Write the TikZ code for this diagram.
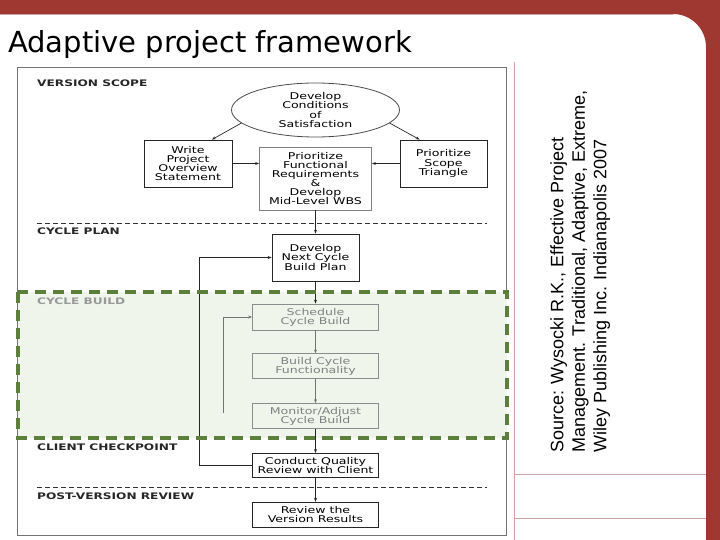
\documentclass[tikz,border=0pt]{standalone}
\usepackage{fontspec}
\setmainfont{DejaVu Sans}
\newfontfamily\figfont[FakeStretch=1.35]{DejaVu Sans}
\newfontfamily\srcfont{Liberation Sans}
\usetikzlibrary{arrows.meta,positioning,shapes.geometric}
\definecolor{slidered}{RGB}{158,56,48}
\definecolor{rulepink}{RGB}{204,164,164}
\definecolor{buildgreen}{RGB}{92,128,60}
\definecolor{buildfill}{RGB}{239,245,235}

\begin{document}
\begin{tikzpicture}[x=1pt, y=-1pt, >={Stealth[length=4pt, width=3pt]},
  box/.style={draw=black!85, line width=0.8pt, align=center, inner sep=1pt,
    text=black, font=\figfont\fontsize{9.3}{9.1}\selectfont},
  faded/.style={box, draw=black!45, text=black!50},
  section/.style={anchor=west, inner sep=0pt, text=black!85,
    font=\figfont\bfseries\fontsize{9}{9}\selectfont},
  flow/.style={->, line width=0.7pt, black!85},
  sepline/.style={black!80, line width=0.6pt, dash pattern=on 5pt off 3pt}
]
  \useasboundingbox (0,0) rectangle (720,540);
  \fill[slidered] (0,0) -- (720,0) -- (720,540) -- (706,540) -- (706,47)
    arc[start angle=0, end angle=90, radius=33pt] -- (0,14) -- cycle;
  \draw[rulepink, line width=0.6pt] (0,14.5) -- (673,14.5);
  \draw[rulepink, line width=0.8pt] (514,62) -- (514,540);
  \draw[rulepink, line width=0.8pt] (514,474) -- (706,474);
  \draw[rulepink, line width=0.8pt] (514,518) -- (706,518);

  \node[anchor=base west, inner sep=0pt, font=\fontsize{29}{34}\selectfont] (title)
    at (8,53) {Adaptive project framework};
  \node[rotate=90, anchor=north west, align=left, inner sep=0pt,
    font=\srcfont\fontsize{18}{21.5}\selectfont] (source) at (550,453)
    {Source: Wysocki R.K., Effective Project\\Management. Traditional, Adaptive, Extreme,\\Wiley Publishing Inc. Indianapolis 2007};

  \draw[black!55, line width=1pt] (17,68) rectangle (506,535);
  \fill[buildfill] (18,292) rectangle (507,438);
  \draw[sepline] (37,223) -- (487,223);
  \draw[sepline] (37,487) -- (487,487);

  \node[section] (vscope) at (37,83) {VERSION SCOPE};
  \node[section] (cplan) at (37,231) {CYCLE PLAN};
  \node[section, text=black!40] (cbuild) at (37,301) {CYCLE BUILD};
  \node[section] (ccheck) at (37,447) {CLIENT CHECKPOINT};
  \node[section] (pvreview) at (37,496) {POST-VERSION REVIEW};

  \node[box, ellipse, draw=black!70, minimum width=168pt, minimum height=54pt] (cos)
    at (315.5,110) {Develop\\Conditions\\of\\Satisfaction};
  \node[box, minimum width=88pt, minimum height=47pt] (write) at (188,163.5)
    {Write\\Project\\Overview\\Statement};
  \node[box, draw=black!50, minimum width=112pt, minimum height=63pt] (prio)
    at (315.5,178.5) {Prioritize\\Functional\\Requirements\\\&\\Develop\\Mid-Level WBS};
  \node[box, minimum width=87pt, minimum height=47pt] (scope) at (443.5,163.5)
    {Prioritize\\Scope\\Triangle};
  \node[box, minimum width=87pt, minimum height=47pt] (devnext) at (315.5,257.5)
    {Develop\\Next Cycle\\Build Plan};
  \node[faded, minimum width=126pt, minimum height=26pt] (sched) at (315.5,317)
    {Schedule\\Cycle Build};
  \node[faded, minimum width=126pt, minimum height=25pt, below=23pt of sched] (build)
    {Build Cycle\\Functionality};
  \node[faded, minimum width=126pt, minimum height=25pt, below=24pt of build] (monitor)
    {Monitor/Adjust\\Cycle Build};
  \node[box, minimum width=126pt, minimum height=24pt, below=24pt of monitor]
    (conduct) {Conduct Quality\\Review with Client};
  \node[box, minimum width=126pt, minimum height=25pt, below=24pt of conduct] (review)
    {Review the\\Version Results};
  \coordinate (loopstart) at (223,413);

  \draw[flow] (cos.190) -- (write.45);
  \draw[flow] (cos.350) -- (scope.135);
  \draw[flow] (write.east) -- (write.east -| prio.west);
  \draw[flow] (scope.west) -- (scope.west -| prio.east);
  \draw[flow] (prio) -- (devnext);
  \draw[flow] (devnext) -- (sched);
  \draw[flow, black!55] (sched) -- (build);
  \draw[flow, black!55] (build) -- (monitor);
  \draw[flow] (monitor) -- (conduct);
  \draw[flow] (conduct) -- (review);
  \draw[flow] (conduct.west) -- ++(-53,0) |- (devnext.west);
  \draw[flow, black!55] (loopstart) |- (sched.west);

  \draw[buildgreen, line width=4pt, dash pattern=on 11pt off 7pt]
    (18,292) rectangle (507,438);
\end{tikzpicture}
\end{document}
